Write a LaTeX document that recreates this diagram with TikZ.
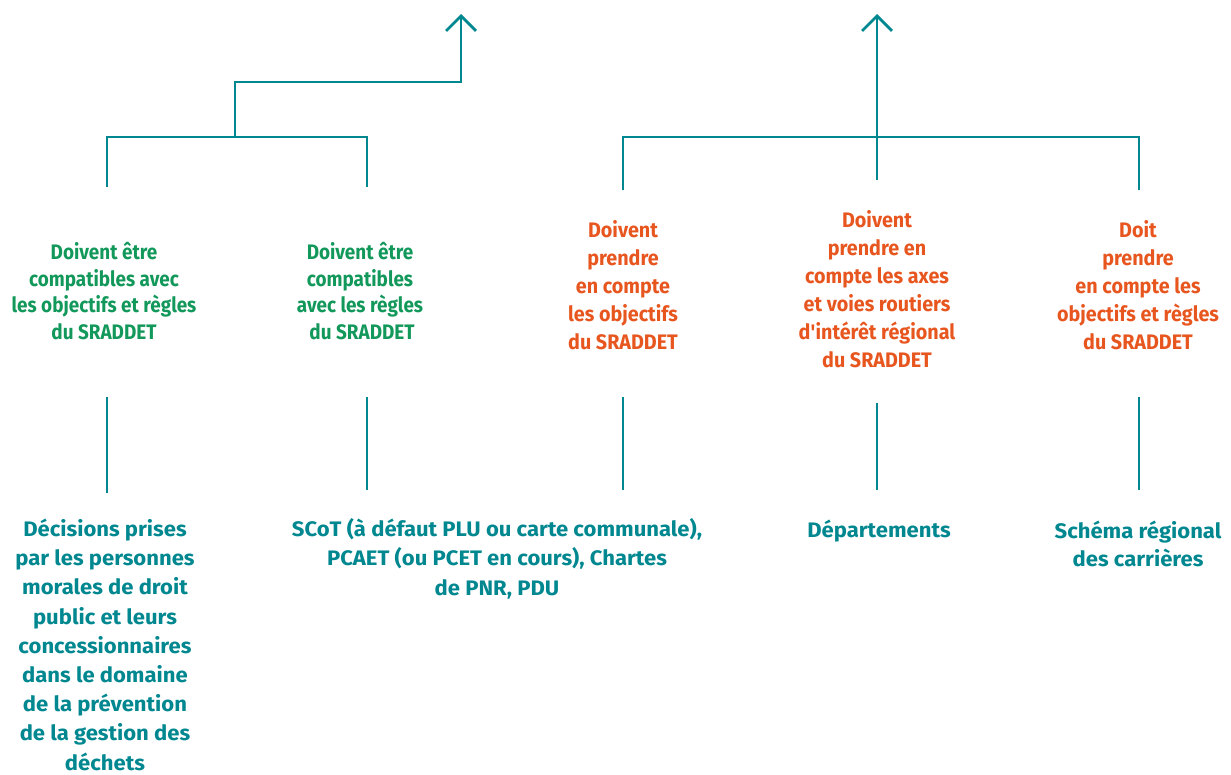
\documentclass[tikz,border=0pt]{standalone}
\usepackage{fontspec}
\setmainfont{Fira Sans}[FakeStretch=0.9]
\newfontfamily\orgfont{Fira Sans}[FakeStretch=0.94]
\newfontfamily\resfont{Fira Sans}[FakeStretch=1.05]
\usetikzlibrary{arrows.meta}
\definecolor{teal1}{HTML}{00878F}
\definecolor{green1}{HTML}{12985A}
\definecolor{orange1}{HTML}{E8561F}
\begin{document}
\begin{tikzpicture}[x=1pt,y=1pt,
  conn/.style={draw=teal1, line width=2.8pt},
  arr/.style={conn, -{Straight Barb[length=15pt,width=30pt,line width=2.8pt]}},
  lbl/.style={align=center, inner sep=0pt, anchor=base},
  grn/.style={lbl, text=green1, font=\bfseries\fontsize{21}{26.5}\selectfont},
  org/.style={lbl, text=orange1, font=\orgfont\bfseries\fontsize{21}{28}\selectfont},
  res/.style={lbl, text=teal1, font=\resfont\bfseries\fontsize{21}{29.2}\selectfont}]
\useasboundingbox (0,0) rectangle (1231,-774);

% coordinates
\coordinate (tipL) at (461,-14);
\coordinate (kL) at (461,-82);
\coordinate (jL) at (235,-137);
\coordinate (g1up) at (107,-187);
\coordinate (g2up) at (367,-187);
\coordinate (tipR) at (877,-14);
\coordinate (jR) at (877,-137);
\coordinate (o1up) at (623,-190);
\coordinate (o2up) at (877,-180);
\coordinate (o3up) at (1139,-190);

\coordinate (g1dn) at (107,-397); \coordinate (d1up) at (107,-493);
\coordinate (g2dn) at (367,-397); \coordinate (d2up) at (367,-490);
\coordinate (o1dn) at (623,-397); \coordinate (d2upb) at (623,-490);
\coordinate (o2dn) at (877,-403); \coordinate (d3up) at (877,-490);
\coordinate (o3dn) at (1139,-397); \coordinate (d4up) at (1139,-490);

% labels (anchored at the baseline of the last line)
\node[grn] (g1) at (104,-339) {Doivent être\\compatibles avec\\les objectifs et règles\\du SRADDET};
\node[grn] (g2) at (360,-339) {Doivent être\\compatibles\\avec les règles\\\hspace*{4pt}du SRADDET};
\node[org] (o1) at (623,-349) {Doivent\\prendre\\en compte\\les objectifs\\du SRADDET};
\node[org] (o2) at (877,-367) {Doivent\\prendre en\\compte les axes\\et voies routiers\\d\textquotesingle intérêt régional\\du SRADDET};
\node[org] (o3) at (1138,-349) {Doit\\prendre\\en compte les\\objectifs et règles\\du SRADDET};

\node[res] (d1) at (105,-770) {Décisions prises\\par les personnes\\morales de droit\\public et leurs\\concessionnaires\\dans le domaine\\de la prévention\\de la gestion des\\déchets};
\node[res] (d2) at (497,-595) {SCoT (à défaut PLU ou carte communale),\\PCAET (ou PCET en cours), Chartes\\de PNR, PDU};
\node[res] (d3) at (879,-537) {Départements};
\node[res, font=\resfont\bfseries\fontsize{21}{28}\selectfont] (d4) at (1138,-566) {Schéma régional\\des carrières};

% connectors
\draw[conn] (g1up) |- (jL) -| (g2up);
\draw[arr] (jL) |- (kL) -- (tipL);
\draw[conn] (o1up) |- (jR) -| (o3up);
\draw[arr] (o2up) -- (tipR);

\draw[conn] (g1dn) -- (d1up);
\draw[conn] (g2dn) -- (d2up);
\draw[conn] (o1dn) -- (d2upb);
\draw[conn] (o2dn) -- (d3up);
\draw[conn] (o3dn) -- (d4up);
\end{tikzpicture}
\end{document}
